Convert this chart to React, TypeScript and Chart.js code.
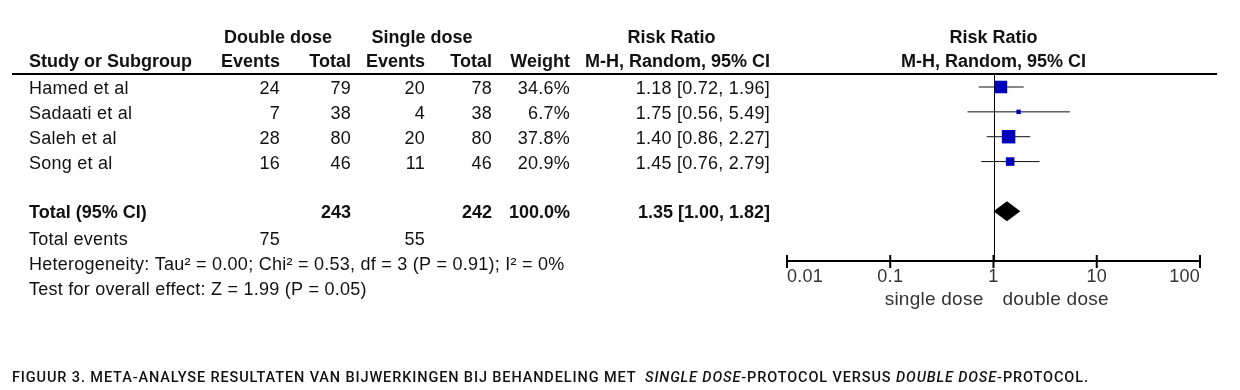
import React, { useEffect, useRef } from "react";
import { Chart, registerables } from "chart.js";

Chart.register(...registerables);

// ---------- data ----------
const studies = ["Hamed et al", "Sadaati et al", "Saleh et al", "Song et al"];
const doubleEvents = [24, 7, 28, 16];
const doubleTotal = [79, 38, 80, 46];
const singleEvents = [20, 4, 20, 11];
const singleTotal = [78, 38, 80, 46];
const weights = [34.6, 6.7, 37.8, 20.9];
const riskRatio = [1.18, 1.75, 1.4, 1.45];
const ciLow = [0.72, 0.56, 0.86, 0.76];
const ciHigh = [1.96, 5.49, 2.27, 2.79];

const totalLabel = "Total (95% CI)";
const totalDouble = 243;
const totalSingle = 242;
const totalWeight = 100.0;
const pooled = [1.35, 1.0, 1.82]; // RR, low, high
const totalEvents = [75, 55]; // double, single
const heterogeneityText =
  "Heterogeneity: Tau\u00B2 = 0.00; Chi\u00B2 = 0.53, df = 3 (P = 0.91); I\u00B2 = 0%";
const overallEffectText = "Test for overall effect: Z = 1.99 (P = 0.05)";

const axisTicks = [0.01, 0.1, 1, 10, 100];
const axisTickLabels = ["0.01", "0.1", "1", "10", "100"];
const favoursLeft = "single dose";
const favoursRight = "double dose";

const caption = [
  { t: "FIGUUR 3. META-ANALYSE RESULTATEN VAN BIJWERKINGEN BIJ BEHANDELING MET  ", i: false },
  { t: "SINGLE DOSE", i: true },
  { t: "-PROTOCOL VERSUS ", i: false },
  { t: "DOUBLE DOSE", i: true },
  { t: "-PROTOCOL.", i: false },
];

// ---------- layout (style only) ----------
const FONT = '"Liberation Sans", Arial, sans-serif';
const COL = { study: 29, dEv: 280, dTot: 351, sEv: 425, sTot: 492, weight: 570, rr: 770 };
const ROW = { head1: -2.05, head2: -1.09, total: 5, events: 6.08, het: 7.08, test: 8.09 };
const TEXT_DY = 2;
const fmt = (v: number) => v.toFixed(2);
const rrText = (r: number, l: number, h: number) => `${fmt(r)} [${fmt(l)}, ${fmt(h)}]`;
const squareRadius = (w: number) => (2.5 + 0.29 * w) / Math.SQRT2;

const forestPlugin = {
  id: "forest",
  beforeDatasetsDraw(chart: any) {
    const { ctx, chartArea, scales } = chart;
    const x = scales.x;
    ctx.save();
    ctx.strokeStyle = "#000";
    ctx.lineWidth = 2;
    ctx.beginPath();
    ctx.moveTo(12, chartArea.top);
    ctx.lineTo(1217, chartArea.top);
    ctx.stroke();
    const x1 = Math.round(x.getPixelForValue(1)) + 0.5;
    ctx.lineWidth = 1;
    ctx.beginPath();
    ctx.moveTo(x1, chartArea.top);
    ctx.lineTo(x1, chartArea.bottom);
    ctx.stroke();
    ctx.restore();
  },
  afterDatasetsDraw(chart: any) {
    const { ctx, chartArea, scales } = chart;
    const x = scales.x;
    const y = scales.y;
    ctx.save();
    const yc = y.getPixelForValue(ROW.total);
    ctx.fillStyle = "#000";
    ctx.beginPath();
    ctx.moveTo(x.getPixelForValue(pooled[1]), yc);
    ctx.lineTo(x.getPixelForValue(pooled[0]), yc - 10);
    ctx.lineTo(x.getPixelForValue(pooled[2]), yc);
    ctx.lineTo(x.getPixelForValue(pooled[0]), yc + 10);
    ctx.closePath();
    ctx.fill();

    const yb = chartArea.bottom;
    ctx.strokeStyle = "#000";
    ctx.lineWidth = 2;
    ctx.beginPath();
    ctx.moveTo(x.getPixelForValue(axisTicks[0]), yb);
    ctx.lineTo(x.getPixelForValue(axisTicks[axisTicks.length - 1]), yb);
    ctx.stroke();
    ctx.fillStyle = "#333";
    ctx.font = `18px ${FONT}`;
    ctx.textBaseline = "middle";
    (ctx as any).letterSpacing = "0.25px";
    axisTicks.forEach((v, i) => {
      const px = x.getPixelForValue(v);
      ctx.beginPath();
      ctx.moveTo(px, yb - 6);
      ctx.lineTo(px, yb + 7);
      ctx.stroke();
      ctx.textAlign = i === 0 ? "left" : i === axisTicks.length - 1 ? "right" : "center";
      ctx.fillText(axisTickLabels[i], px, yb + 16);
    });
    ctx.font = `19px ${FONT}`;
    const xm = x.getPixelForValue(1);
    ctx.textAlign = "right";
    ctx.fillText(favoursLeft, xm - 10, yb + 39);
    ctx.textAlign = "left";
    ctx.fillText(favoursRight, xm + 9, yb + 39);

    ctx.fillStyle = "#111";
    const ty = (r: number) => y.getPixelForValue(r) + TEXT_DY;
    const txt = (s: string, px: number, r: number, align: string, bold = false) => {
      ctx.font = `${bold ? "bold " : ""}18px ${FONT}`;
      (ctx as any).letterSpacing = bold ? "0px" : "0.25px";
      ctx.textAlign = align;
      ctx.fillText(s, px, ty(r));
    };
    txt("Double dose", 278, ROW.head1, "center", true);
    txt("Single dose", 422, ROW.head1, "center", true);
    txt("Risk Ratio", 671.5, ROW.head1, "center", true);
    txt("Risk Ratio", xm, ROW.head1, "center", true);
    txt("Study or Subgroup", COL.study, ROW.head2, "left", true);
    txt("Events", COL.dEv, ROW.head2, "right", true);
    txt("Total", COL.dTot, ROW.head2, "right", true);
    txt("Events", COL.sEv, ROW.head2, "right", true);
    txt("Total", COL.sTot, ROW.head2, "right", true);
    txt("Weight", COL.weight, ROW.head2, "right", true);
    txt("M-H, Random, 95% CI", COL.rr, ROW.head2, "right", true);
    txt("M-H, Random, 95% CI", xm, ROW.head2, "center", true);

    studies.forEach((s, i) => {
      txt(s, COL.study, i, "left");
      txt(String(doubleEvents[i]), COL.dEv, i, "right");
      txt(String(doubleTotal[i]), COL.dTot, i, "right");
      txt(String(singleEvents[i]), COL.sEv, i, "right");
      txt(String(singleTotal[i]), COL.sTot, i, "right");
      txt(`${weights[i].toFixed(1)}%`, COL.weight, i, "right");
      txt(rrText(riskRatio[i], ciLow[i], ciHigh[i]), COL.rr, i, "right");
    });
    txt(totalLabel, COL.study, ROW.total, "left", true);
    txt(String(totalDouble), COL.dTot, ROW.total, "right", true);
    txt(String(totalSingle), COL.sTot, ROW.total, "right", true);
    txt(`${totalWeight.toFixed(1)}%`, COL.weight, ROW.total, "right", true);
    txt(rrText(pooled[0], pooled[1], pooled[2]), COL.rr, ROW.total, "right", true);
    txt("Total events", COL.study, ROW.events, "left");
    txt(String(totalEvents[0]), COL.dEv, ROW.events, "right");
    txt(String(totalEvents[1]), COL.sEv, ROW.events, "right");
    txt(heterogeneityText, COL.study, ROW.het, "left");
    txt(overallEffectText, COL.study, ROW.test, "left");
    ctx.restore();
  },
};

export default function App() {
  const ref = useRef<HTMLCanvasElement | null>(null);
  useEffect(() => {
    if (!ref.current) return;
    const ciSets = studies.map((s, i) => ({
      type: "line" as const,
      label: `${s} CI`,
      data: [
        { x: ciLow[i], y: i },
        { x: ciHigh[i], y: i },
      ],
      borderColor: "#111",
      borderWidth: 1,
      pointRadius: 0,
      order: 2,
    }));
    const chart = new Chart(ref.current, {
      type: "scatter",
      data: {
        datasets: [
          {
            label: "Risk ratio",
            data: riskRatio.map((r, i) => ({ x: r, y: i })),
            pointStyle: "rect",
            pointRadius: weights.map(squareRadius),
            backgroundColor: "#0000bb",
            borderColor: "#0000bb",
            borderWidth: 0,
            order: 0,
          },
          ...ciSets,
        ] as any,
      },
      options: {
        animation: false,
        responsive: false,
        layout: { padding: { left: 787, right: 40, top: 74, bottom: 129 } },
        plugins: { legend: { display: false }, tooltip: { enabled: false } },
        scales: {
          x: { type: "logarithmic", min: 0.01, max: 100, display: false },
          y: { type: "linear", min: -0.523, max: 7.0, reverse: true, display: false },
        },
      },
      plugins: [forestPlugin],
    });
    return () => chart.destroy();
  }, []);

  return (
    <div style={{ position: "absolute", left: 0, top: 0, width: 1240, height: 390, background: "#fff" }}>
      <canvas ref={ref} width={1240} height={390} style={{ display: "block" }} />
      <div
        style={{
          position: "absolute",
          left: 12,
          top: 369,
          font: "500 14.5px Roboto, sans-serif",
          letterSpacing: "0.88px",
          color: "#111",
          whiteSpace: "pre",
          lineHeight: "18px",
        }}
      >
        {caption.map((c, k) =>
          c.i ? <i key={k}>{c.t}</i> : <span key={k}>{c.t}</span>
        )}
      </div>
    </div>
  );
}
